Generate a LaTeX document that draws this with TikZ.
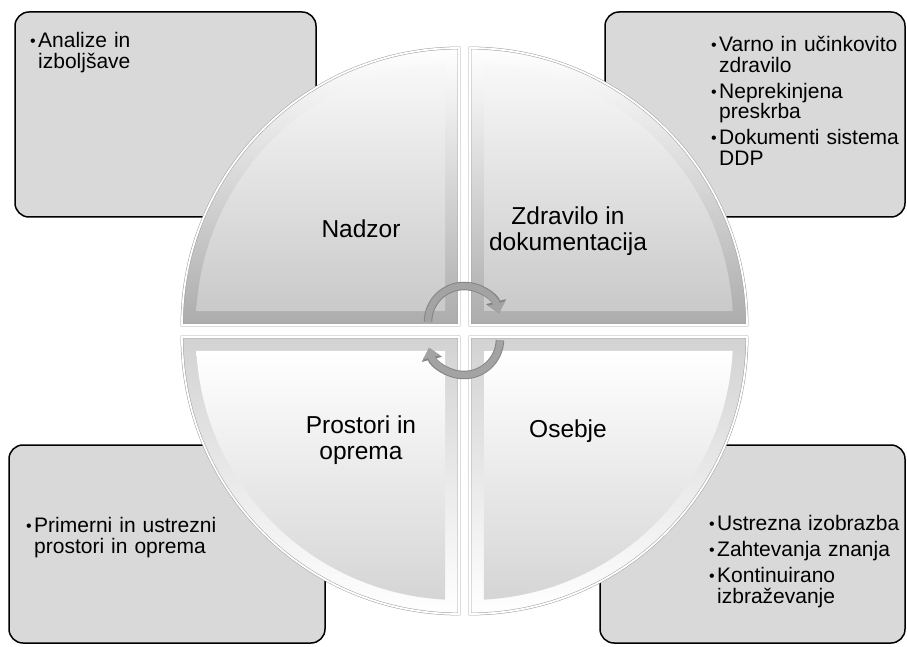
\documentclass[tikz,border=0pt]{standalone}
\usepackage{fontspec}
\setmainfont{Liberation Sans}
\usetikzlibrary{arrows.meta,calc}

\definecolor{boxgray}{HTML}{D9D9D9}
\definecolor{arrowgray}{HTML}{A3A3A3}
\definecolor{arrowedge}{HTML}{858585}

\newcommand{\bitem}[2][0pt]{\par\vspace{#1}\hangindent=8pt\hangafter=1\noindent
  \makebox[8pt][l]{\raisebox{0.8pt}{\fontsize{16}{16}\selectfont\textbullet}}#2\par}

\tikzset{
  infobox/.style={draw=black, line width=1.5pt, fill=boxgray, rounded corners=14pt},
  infotext/.style={anchor=north west, inner sep=0pt, text width=#1, align=left,
    font=\fontsize{21}{20.5}\selectfont},
  qlabel/.style={align=center, inner sep=0pt, font=\fontsize{24.5}{25.5}\selectfont},
  quadrim/.style={draw=gray!75, line width=0.5pt, double=white, double distance=1.8pt},
  cyclearrow/.style={arrowgray, line width=6.5pt, -{Triangle[width=17pt,length=10pt]},
    preaction={draw=arrowedge, line width=8.5pt, -{Triangle[width=20pt,length=12pt]}}}
}

\begin{document}
\begin{tikzpicture}[x=1pt, y=1pt]
  \useasboundingbox (0,0) rectangle (907,646);

  % corner boxes
  \draw[infobox] (15,429) rectangle (316,634);
  \draw[infobox] (605,429) rectangle (905,634);
  \draw[infobox] (9,3) rectangle (325,201);
  \draw[infobox] (600,3) rectangle (905,201);

  \node[infotext=250pt] (tltext) at (30,619) {\bitem{Analize in\newline izboljšave}};
  \node[infotext=250pt] (trtext) at (711,615) {\bitem{Varno in učinkovito\newline zdravilo}
    \bitem[5.5pt]{Neprekinjena\newline preskrba}\bitem[5.5pt]{Dokumenti sistema\newline DDP}};
  \node[infotext=250pt] (bltext) at (26,134) {\bitem{Primerni in ustrezni\newline prostori in oprema}};
  \node[infotext=250pt] (brtext) at (709,136) {\bitem{Ustrezna izobrazba}
    \bitem[5.5pt]{Zahtevanja znanja}\bitem[5.5pt]{Kontinuirano\newline izbraževanje}};

  % quadrants of the circle
  \foreach \qx/\qy/\qa/\otop/\obot/\itop/\ibot in {
      459/321/90/white/gray!65/gray!5/gray!42,
      470/321/0/white/gray!65/gray!5/gray!42,
      459/309/180/gray!35/white/white/gray!33,
      470/309/270/gray!35/white/white/gray!33}{
    \path[top color=\otop, bottom color=\obot]
      (\qx,\qy) -- ++(\qa:277) arc[start angle=\qa, end angle=\qa+90, radius=277] -- cycle;
    \path[top color=\itop, bottom color=\ibot]
      ($(\qx,\qy)+(\qa:14)+(\qa+90:14)$) -- ([shift={(\qx,\qy)}]\qa+3.05:263)
      arc[start angle=\qa+3.05, end angle=\qa+86.95, radius=263] -- cycle;
    \draw[quadrim]
      (\qx,\qy) -- ++(\qa:277) arc[start angle=\qa, end angle=\qa+90, radius=277] -- cycle;
  }

  \node[qlabel] (nadzor) at (361,417) {Nadzor};
  \node[qlabel] (zdravilo) at (568,415) {Zdravilo in\\dokumentacija};
  \node[qlabel] (prostori) at (361,206) {Prostori in\\oprema};
  \node[qlabel] (osebje) at (568,215) {Osebje};

  % cycle arrows
  \draw[cyclearrow] ([shift={(464,324)}]180:36) arc[start angle=180, end angle=14, radius=36];
  \draw[cyclearrow] ([shift={(464,307)}]-2:36) arc[start angle=-2, end angle=-166, radius=36];
\end{tikzpicture}
\end{document}
